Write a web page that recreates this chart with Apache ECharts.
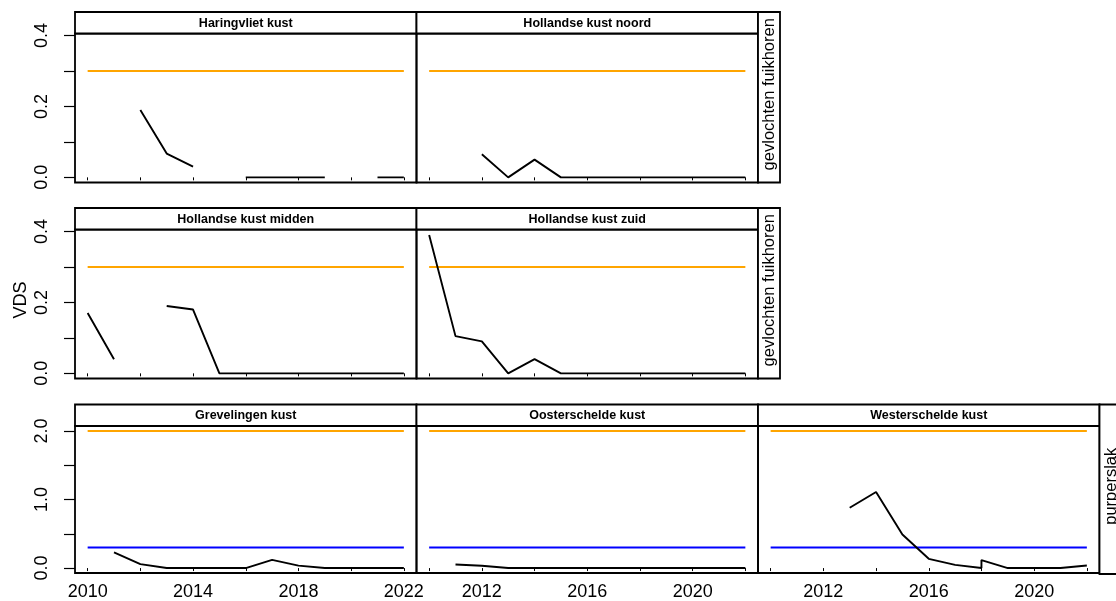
<!DOCTYPE html>
<html><head><meta charset="utf-8">
<script src="https://cdn.jsdelivr.net/npm/echarts@6/dist/echarts.min.js"></script>
<style>html,body{margin:0;padding:0;background:#fff}#c{width:1116px;height:601px}</style>
</head><body><div id="c"></div>
<script>
// ---------- data ----------
const years = [2010, 2011, 2012, 2013, 2014, 2015, 2016, 2017, 2018, 2019, 2020, 2021, 2022];
const haringvliet   = [null, null, 0.19, 0.067, 0.03, null, 0, 0, 0, 0, null, 0, 0];
const hkNoord       = [null, null, 0.065, 0, 0.05, 0, 0, 0, 0, 0, 0, 0, 0];
const hkMidden      = [0.17, 0.04, null, 0.19, 0.18, 0, 0, 0, 0, 0, 0, 0, 0];
const hkZuid        = [0.39, 0.105, 0.09, 0, 0.04, 0, 0, 0, 0, 0, 0, 0, 0];
const grevelingen   = [null, 0.23, 0.058, 0, 0, 0, 0, 0.12, 0.035, 0, 0, 0, 0];
const oosterschelde = [null, 0.052, 0.033, 0, 0, 0, 0, 0, 0, 0, 0, 0, 0];
const westYears     = [2013, 2014, 2015, 2016, 2017, 2018, 2018, 2019, 2020, 2021, 2022];
const westerschelde = [0.88, 1.11, 0.49, 0.135, 0.047, 0, 0.116, 0, 0, 0, 0.038];

const panelNames = ['Haringvliet kust', 'Hollandse kust noord', 'Hollandse kust midden',
  'Hollandse kust zuid', 'Grevelingen kust', 'Oosterschelde kust', 'Westerschelde kust'];
const speciesNames = ['gevlochten fuikhoren', 'gevlochten fuikhoren', 'purperslak'];

const fuikhorenOrange = 0.3;
const purperslakOrange = 2.0;
const purperslakBlue = 0.3;

const xTicks = [2010, 2012, 2014, 2016, 2018, 2020, 2022];
const xLabelsFirst = [2010, 2014, 2018, 2022];
const xLabelsOther = [2012, 2016, 2020];
const yTicksSmall = [0, 0.1, 0.2, 0.3, 0.4];
const yLabelsSmall = [0, 0.2, 0.4];
const yTicksLarge = [0, 0.5, 1.0, 1.5, 2.0];
const yLabelsLarge = [0, 1.0, 2.0];
const yAxisTitle = 'VDS';

// ---------- layout ----------
const FONT = '"Liberation Sans", Arial, sans-serif';
const colEdges = [75, 416.5, 758, 1099.5];
const stripTop = [12, 208, 404.5];
const panelTop = [33.5, 229.5, 426];
const panelBottom = [182.5, 378.5, 574];
const xRange = [2009.52, 2022.48];
const yRangeSmall = [-0.0145, 0.4056];
const yRangeLarge = [-0.072, 2.072];

const panels = [
  {name: panelNames[0], row: 0, col: 0, xs: years, ys: haringvliet, orange: fuikhorenOrange, blue: null},
  {name: panelNames[1], row: 0, col: 1, xs: years, ys: hkNoord, orange: fuikhorenOrange, blue: null},
  {name: panelNames[2], row: 1, col: 0, xs: years, ys: hkMidden, orange: fuikhorenOrange, blue: null},
  {name: panelNames[3], row: 1, col: 1, xs: years, ys: hkZuid, orange: fuikhorenOrange, blue: null},
  {name: panelNames[4], row: 2, col: 0, xs: years, ys: grevelingen, orange: purperslakOrange, blue: purperslakBlue},
  {name: panelNames[5], row: 2, col: 1, xs: years, ys: oosterschelde, orange: purperslakOrange, blue: purperslakBlue},
  {name: panelNames[6], row: 2, col: 2, xs: westYears, ys: westerschelde, orange: purperslakOrange, blue: purperslakBlue}
];

const grids = [], xAxes = [], yAxes = [], series = [], graphics = [];

panels.forEach((p, i) => {
  const left = colEdges[p.col], right = colEdges[p.col + 1];
  const top = panelTop[p.row], bottom = panelBottom[p.row];
  const large = p.row === 2;
  grids.push({left: left, top: top, width: right - left, height: bottom - top,
    show: true, borderColor: '#000', borderWidth: 1.8, backgroundColor: 'transparent'});
  xAxes.push({
    type: 'value', gridIndex: i, min: xRange[0], max: xRange[1],
    axisLine: {show: false}, splitLine: {show: false},
    axisTick: {show: true, length: 3, lineStyle: {color: '#000', width: 1}, customValues: xTicks},
    axisLabel: {show: large, customValues: p.col === 0 ? xLabelsFirst : xLabelsOther,
      formatter: v => String(v), color: '#000', fontSize: 18, fontFamily: FONT, margin: 10}
  });
  yAxes.push({
    type: 'value', gridIndex: i,
    min: large ? yRangeLarge[0] : yRangeSmall[0], max: large ? yRangeLarge[1] : yRangeSmall[1],
    axisLine: {show: false}, splitLine: {show: false},
    axisTick: {show: p.col === 0, length: 11, lineStyle: {color: '#000', width: 1.2},
      customValues: large ? yTicksLarge : yTicksSmall},
    axisLabel: {show: p.col === 0, customValues: large ? yLabelsLarge : yLabelsSmall,
      formatter: v => v.toFixed(1), rotate: 90, color: '#000', fontSize: 18, fontFamily: FONT, margin: 24}
  });
  series.push({type: 'line', xAxisIndex: i, yAxisIndex: i, showSymbol: false, symbol: 'none',
    lineStyle: {color: '#FFA500', width: 2}, silent: true,
    data: [[years[0], p.orange], [years[years.length - 1], p.orange]]});
  if (p.blue !== null) {
    series.push({type: 'line', xAxisIndex: i, yAxisIndex: i, showSymbol: false, symbol: 'none',
      lineStyle: {color: '#0000FF', width: 2}, silent: true,
      data: [[years[0], p.blue], [years[years.length - 1], p.blue]]});
  }
  series.push({type: 'line', xAxisIndex: i, yAxisIndex: i, showSymbol: false, symbol: 'none',
    connectNulls: false, lineStyle: {color: '#000', width: 1.9}, silent: true,
    data: p.xs.map((x, k) => [x, p.ys[k] === null ? '-' : p.ys[k]])});
  // strip on top
  graphics.push({type: 'rect', shape: {x: left, y: stripTop[p.row], width: right - left, height: top - stripTop[p.row]},
    style: {fill: '#fff', stroke: '#000', lineWidth: 1.8}, z: 10});
  graphics.push({type: 'text', x: (left + right) / 2, y: (stripTop[p.row] + top) / 2 + 0.5, z: 11,
    style: {text: p.name, fontSize: 12.5, fontWeight: 'bold', fontFamily: FONT, fill: '#000',
      align: 'center', verticalAlign: 'middle'}});
});

// right-hand strips (species)
const rightStripX = [colEdges[2], colEdges[2], colEdges[3]];
speciesNames.forEach((s, r) => {
  const x0 = rightStripX[r];
  graphics.push({type: 'rect', shape: {x: x0, y: stripTop[r], width: 22, height: panelBottom[r] - stripTop[r]},
    style: {fill: '#fff', stroke: '#000', lineWidth: 1.8}, z: 10});
  graphics.push({type: 'text', x: x0 + 11.5, y: (stripTop[r] + panelBottom[r]) / 2 - 3, rotation: Math.PI / 2, z: 11,
    style: {text: s, fontSize: 16.5, fontFamily: FONT, fill: '#000', align: 'center', verticalAlign: 'middle'}});
});

graphics.push({type: 'text', x: 21, y: 300, rotation: Math.PI / 2, z: 11,
  style: {text: yAxisTitle, fontSize: 18, fontFamily: FONT, fill: '#000', align: 'center', verticalAlign: 'middle'}});

const chart = echarts.init(document.getElementById('c'), null, {renderer: 'canvas'});
chart.setOption({
  animation: false,
  backgroundColor: '#fff',
  grid: grids, xAxis: xAxes, yAxis: yAxes, series: series, graphic: graphics
});
</script></body></html>
